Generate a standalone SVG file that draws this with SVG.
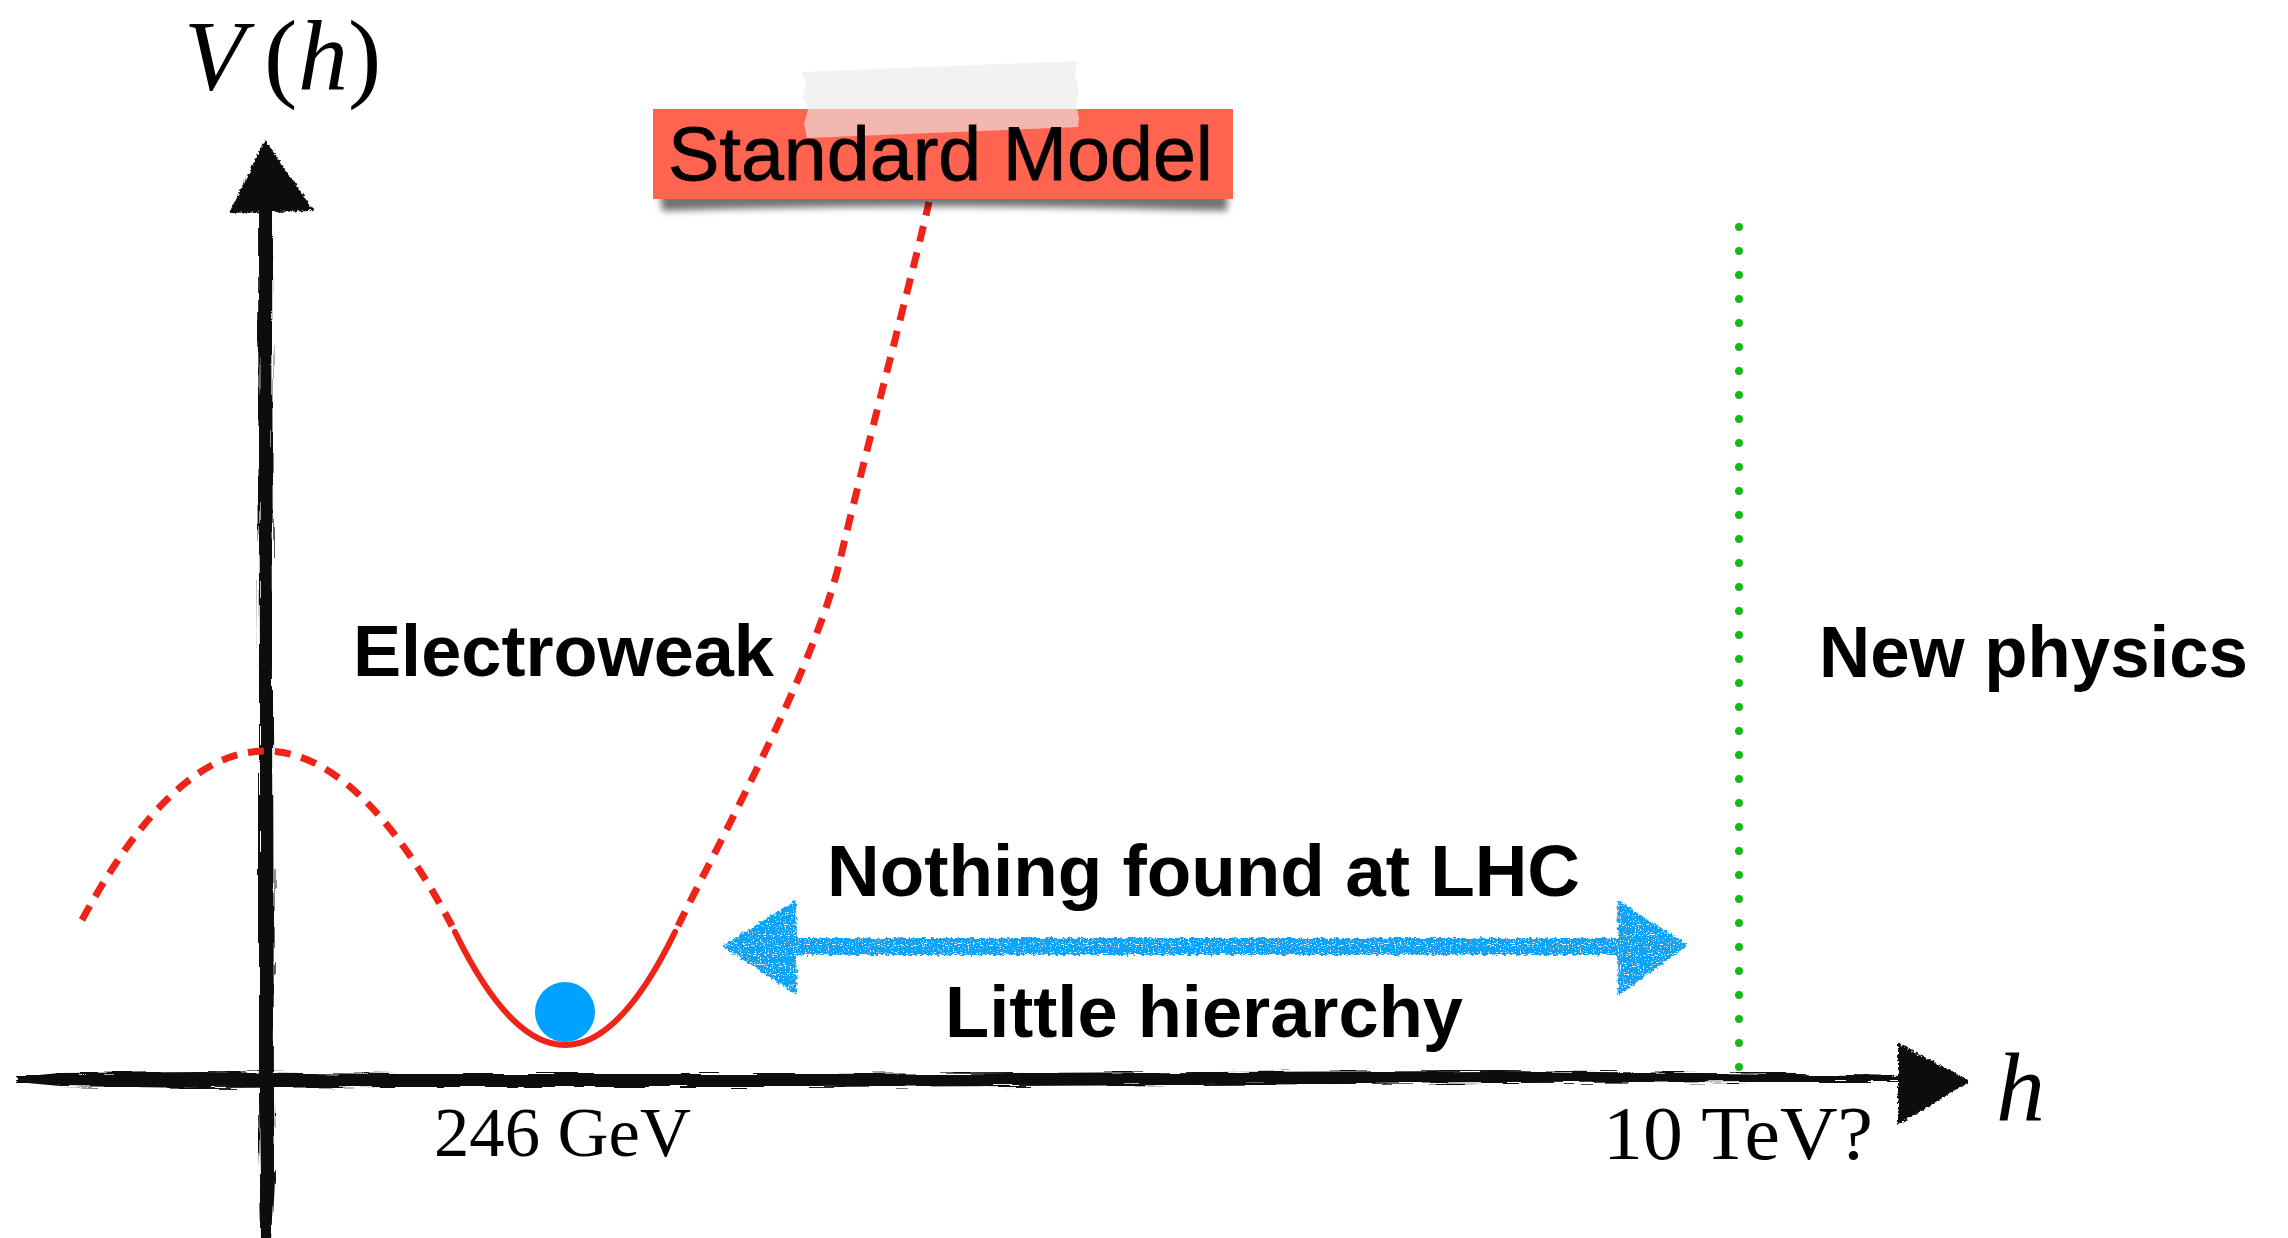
<svg xmlns="http://www.w3.org/2000/svg" width="2288" height="1238" viewBox="0 0 2288 1238">
  <style>
    .sans { font-family: "Liberation Sans", Arial, sans-serif; fill: #000; }
    .bold { font-weight: bold; font-size: 72px; }
    .serif { font-family: "Liberation Serif", "Times New Roman", serif; fill: #000; }
    .ink { fill: #0b0b0b; }
    .dash { fill: none; stroke: #EE2418; stroke-width: 7; stroke-dasharray: 16 11; }
    .solid { fill: none; stroke: #EE2418; stroke-width: 6; stroke-linecap: round; }
    .dots { fill: none; stroke: #1DB51D; stroke-width: 8; stroke-linecap: round; stroke-dasharray: 0 24; }
    .blue { fill: #0FA3F7; }
  </style>
  <defs>
    <!-- brush-like jitter for horizontal strokes -->
    <filter id="roughH" filterUnits="userSpaceOnUse" x="0" y="1040" width="1990" height="110">
      <feTurbulence type="fractalNoise" baseFrequency="0.02 0.5" numOctaves="2" seed="4" result="n"/>
      <feDisplacementMap in="SourceGraphic" in2="n" scale="8" xChannelSelector="R" yChannelSelector="G"/>
    </filter>
    <!-- brush-like jitter for vertical strokes -->
    <filter id="roughV" filterUnits="userSpaceOnUse" x="200" y="120" width="140" height="1130">
      <feTurbulence type="fractalNoise" baseFrequency="0.5 0.02" numOctaves="2" seed="9" result="n"/>
      <feDisplacementMap in="SourceGraphic" in2="n" scale="8" xChannelSelector="R" yChannelSelector="G"/>
    </filter>
    <!-- rough edges for arrowheads -->
    <filter id="roughHead" x="-10%" y="-10%" width="120%" height="120%">
      <feTurbulence type="fractalNoise" baseFrequency="0.35" numOctaves="2" seed="2" result="n"/>
      <feDisplacementMap in="SourceGraphic" in2="n" scale="5" xChannelSelector="R" yChannelSelector="G"/>
    </filter>
    <!-- crayon scribble for the blue arrow -->
    <filter id="crayon" filterUnits="userSpaceOnUse" x="700" y="880" width="1010" height="130">
      <feTurbulence type="fractalNoise" baseFrequency="0.3" numOctaves="2" seed="7" result="n"/>
      <feDisplacementMap in="SourceGraphic" in2="n" scale="6" xChannelSelector="R" yChannelSelector="G" result="d"/>
      <feTurbulence type="fractalNoise" baseFrequency="0.6 0.9" numOctaves="1" seed="11" result="t"/>
      <feColorMatrix in="t" type="matrix" values="0 0 0 0 1  0 0 0 0 1  0 0 0 0 1  14 0 0 0 -8.6" result="spots"/>
      <feComposite in="spots" in2="d" operator="in" result="spotsIn"/>
      <feMerge><feMergeNode in="d"/><feMergeNode in="spotsIn"/></feMerge>
    </filter>
    <filter id="shadowBlur" x="-5%" y="-100%" width="110%" height="300%">
      <feGaussianBlur stdDeviation="3.5"/>
    </filter>
  </defs>

  <rect width="2288" height="1238" fill="#fff"/>

  <!-- axes -->
  <g id="axis-v">
    <polygon class="ink" filter="url(#roughV)" points="258,206 272,206 273,700 274,1100 275,1180 272,1238 261,1238 260,1180 259,1100 259,700"/>
    <polygon class="ink" filter="url(#roughHead)" points="265,140 229,213 314,211"/>
  </g>
  <g id="axis-h">
    <polygon class="ink" filter="url(#roughH)" points="17,1077 60,1073 200,1072 400,1074 800,1074 1200,1072 1500,1071 1800,1074 1902,1076 1902,1082 1800,1082 1500,1083 1200,1085 800,1087 400,1087 200,1088 60,1086 17,1082"/>
    <polygon class="ink" filter="url(#roughHead)" points="1898,1043 1970,1081 1898,1125"/>
  </g>

  <!-- potential V(h) -->
  <g id="potential">
    <path class="dash" d="M82,920 Q173.5,751 265,751 Q359.5,751 452,926"/>
    <path class="solid" d="M455,932 Q565,1158 675,932"/>
    <path class="dash" d="M678,926 C720,840 815,667.5 840,560 C860,474 917,257 929,202"/>
  </g>

  <!-- ball sitting in the minimum -->
  <g id="ball">
    <circle cx="565" cy="1012" r="30" fill="#00A2FF"/>
  </g>

  <!-- scale of new physics -->
  <g id="cutoff">
    <line class="dots" x1="1739" y1="227" x2="1739" y2="1068"/>
  </g>

  <g id="connectors">
    <polygon class="blue" filter="url(#crayon)" points="722,946 796,900 797,938 1618,938 1617,900 1688,945 1618,996 1617,955 796,955 797,995"/>
  </g>

  <!-- Standard Model sticker -->
  <g id="label-standard-model">
    <path d="M660,192 L1228,192 L1227,211 Q944,202 662,211 Z" fill="#000" opacity="0.55" filter="url(#shadowBlur)"/>
    <rect x="653" y="109" width="580" height="90" fill="#FF6450"/>
    <polygon points="802,72 1077,61 1075,75 1079,90 1076,104 1079,118 1078,127 807,138 804,124 808,110 803,96 806,84" fill="#EAEAEA" opacity="0.62"/>
    <text class="sans" x="668" y="180" font-size="76" textLength="545" lengthAdjust="spacingAndGlyphs" stroke="#000" stroke-width="0.8">Standard Model</text>
  </g>

  <g id="label-electroweak">
    <text class="sans bold" x="353" y="676" textLength="421" lengthAdjust="spacingAndGlyphs">Electroweak</text>
  </g>
  <g id="label-new-physics">
    <text class="sans bold" x="1819" y="677" textLength="429" lengthAdjust="spacingAndGlyphs">New physics</text>
  </g>
  <g id="label-lhc">
    <text class="sans bold" x="827" y="896" textLength="753" lengthAdjust="spacingAndGlyphs">Nothing found at LHC</text>
  </g>
  <g id="label-little-hierarchy">
    <text class="sans bold" x="945" y="1037" textLength="518" lengthAdjust="spacingAndGlyphs">Little hierarchy</text>
  </g>

  <g id="label-vev">
    <text class="serif" x="434" y="1156" font-size="70" textLength="257" lengthAdjust="spacingAndGlyphs">246 GeV</text>
  </g>
  <g id="label-cutoff">
    <text class="serif" x="1603" y="1159" font-size="77" textLength="270" lengthAdjust="spacingAndGlyphs">10 TeV?</text>
  </g>

  <g id="label-vh">
    <text class="serif" y="89" font-size="100"><tspan x="184" font-style="italic">V</tspan><tspan x="264">(</tspan><tspan x="298" font-style="italic">h</tspan><tspan x="348">)</tspan></text>
  </g>
  <g id="label-h">
    <text class="serif" x="1996" y="1120" font-size="98" font-style="italic">h</text>
  </g>
</svg>
